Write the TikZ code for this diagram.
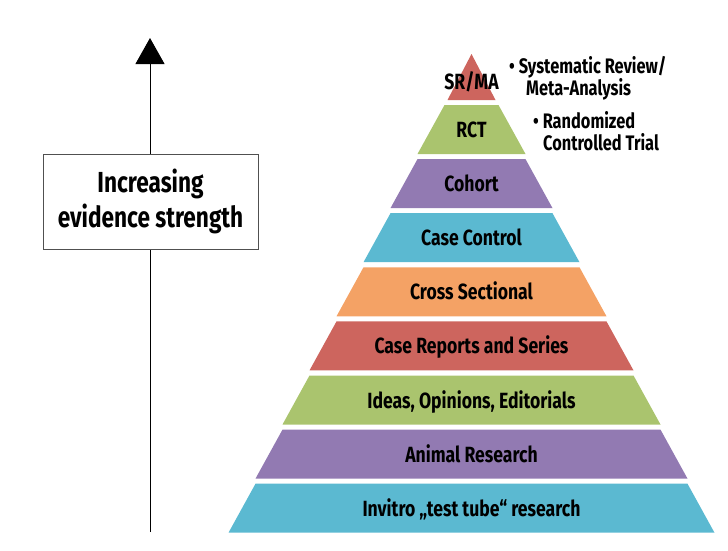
\documentclass[tikz,border=0pt]{standalone}
\usepackage{fontspec}
\setmainfont{Fira Sans}[FakeStretch=0.78]
\newfontfamily\lblfont{Fira Sans}[FakeStretch=0.8]
\usetikzlibrary{arrows.meta}
\definecolor{lred}{RGB}{205,101,94}
\definecolor{lgreen}{RGB}{170,196,110}
\definecolor{lpurple}{RGB}{146,122,178}
\definecolor{lteal}{RGB}{91,185,209}
\definecolor{lorange}{RGB}{244,162,101}
\definecolor{boxline}{RGB}{80,80,80}
\begin{document}
\begin{tikzpicture}[x=1pt,y=-1pt,
  lbl/.style={font=\lblfont\bfseries\fontsize{22}{22}\selectfont, anchor=base, inner sep=0pt},
  note/.style={font=\bfseries\fontsize{21}{22}\selectfont, anchor=base west, inner sep=0pt},
  evbox/.style={draw=boxline, line width=1pt, fill=white, minimum width=215pt, minimum height=95pt,
    align=center, font=\bfseries\fontsize{29}{35}\selectfont, inner sep=0pt}]
\useasboundingbox (0,0) rectangle (728,550);
% top triangle
\fill[lred] (471.5,54) -- (495.5,100) -- (447.5,100) -- cycle;
\node[lbl] (L0) at (471.5,89) {SR/MA};
\foreach \k/\col/\txt in {1/lgreen/RCT, 2/lpurple/Cohort, 3/lteal/{Case Control},
   4/lorange/{Cross Sectional}, 5/lred/{Case Reports and Series},
   6/lgreen/{Ideas, Opinions, Editorials}, 7/lpurple/{Animal Research},
   8/lteal/{Invitro „test tube“ research}} {
  \pgfmathsetmacro\yt{105+54.1*(\k-1)}
  \pgfmathsetmacro\yb{\yt+49}
  \pgfmathsetmacro\wt{27*\k}
  \pgfmathsetmacro\wb{27*(\k+1)}
  \pgfmathsetmacro\yl{\yt+24.5+8}
  \fill[\col] ({471.5-\wt},\yt) -- ({471.5+\wt},\yt) -- ({471.5+\wb},\yb) -- ({471.5-\wb},\yb) -- cycle;
  \node[lbl] (L\k) at (471.5,\yl) {\txt};
}
% notes
\node[note] (n1) at (509,73) {• Systematic Review/};
\node[note] (n2) at (526,95) {Meta-Analysis};
\node[note] (n3) at (533,128) {• Randomized};
\node[note] (n4) at (543,150) {Controlled Trial};
% arrow
\coordinate (abot) at (150,532);
\coordinate (atop) at (150,38);
\draw[line width=1pt, -{Triangle[width=29pt,length=26pt]}] (abot) -- (atop);
\node[evbox] (ev) at (150.5,201.5) {Increasing\\evidence strength};
\end{tikzpicture}
\end{document}
